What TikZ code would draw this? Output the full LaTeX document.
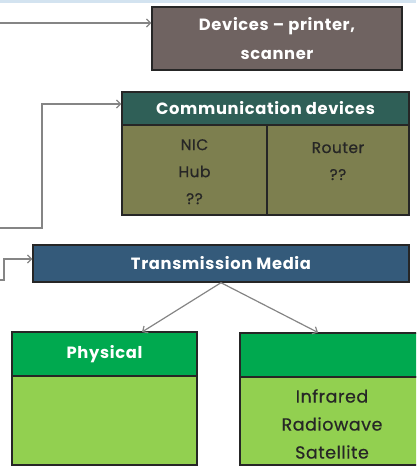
\documentclass[tikz,border=0pt]{standalone}
\usepackage{fontspec}
\setmainfont{Poppins}[LetterSpace=4]
\newfontfamily\bodyfont{Poppins}[LetterSpace=3, FakeBold=0.6]
\usetikzlibrary{arrows.meta}
\definecolor{devfill}{HTML}{6F6361}
\definecolor{commhead}{HTML}{2F5F57}
\definecolor{commbody}{HTML}{7D7F4F}
\definecolor{tmfill}{HTML}{345A7A}
\definecolor{greenhead}{HTML}{00A94F}
\definecolor{greenbody}{HTML}{92D050}
\definecolor{conn}{HTML}{858585}
\definecolor{topstrip}{HTML}{D3E3F0}
\tikzset{
  box/.style={draw=black!85, line width=1.4pt, rectangle, inner sep=0pt, align=center},
  headtext/.style={text=white, font=\bfseries\fontsize{16.3}{29}\selectfont},
  bodytext/.style={text=black!85, font=\bodyfont\fontsize{15.5}{27}\selectfont, align=center, anchor=north, inner sep=0pt},
  bigbodytext/.style={bodytext, font=\bodyfont\fontsize{17.5}{28}\selectfont},
  connector/.style={draw=conn, line width=1.2pt, -{Straight Barb[length=4pt,width=8pt]}},
}
\begin{document}
\begin{tikzpicture}[x=1pt,y=-1pt]
\useasboundingbox (0,0) rectangle (416,466);
\clip (0,0) rectangle (416,466);
\fill[topstrip] (0,0) rectangle (416,2.5);
% devices
\node[box, fill=devfill, minimum width=250pt, minimum height=63pt, headtext] (dev) at (277,38.5) {Devices -- printer,\\scanner};
% communication devices
\node[box, fill=commhead, minimum width=287pt, minimum height=33pt, headtext] (commh) at (265.5,108.5) {Communication devices};
\node[box, fill=commbody, minimum width=145pt, minimum height=90pt] (commL) at (194.5,170) {};
\node[box, fill=commbody, minimum width=142pt, minimum height=90pt] (commR) at (338,170) {};
\node[bodytext] (commLt) at (194.5,139) {NIC\\Hub\\??};
\node[bodytext] (commRt) at (338,142) {Router\\??};
% transmission media
\node[box, fill=tmfill, minimum width=376pt, minimum height=37pt, headtext] (tm) at (221,263.5) {Transmission Media};
% physical
\node[box, fill=greenhead, minimum width=185pt, minimum height=44pt, headtext] (phh) at (104.5,354) {Physical};
\node[box, fill=greenbody, minimum width=185pt, minimum height=89pt] (phb) at (104.5,420.5) {};
% wireless
\node[box, fill=greenhead, minimum width=190pt, minimum height=44pt] (wlh) at (335,355) {};
\node[box, fill=greenbody, minimum width=190pt, minimum height=88pt] (wlb) at (335,421) {};
\node[bigbodytext] (wlt) at (332,389) {Infrared\\Radiowave\\Satellite};
% connectors
\coordinate (s1) at (0,23);
\coordinate (s2) at (0,228);
\coordinate (s3) at (0,280);
\draw[connector] (s1) -- (s1 -| dev.west);
\draw[connector] (s2) -- (42,228) -- (42,104) -- (commh.west |- 0,104);
\draw[connector] (s3) -- (4,280) -- (4,259) -- (tm.west |- 0,259);
\draw[connector] (tm.south) -- (142,332);
\draw[connector] (tm.south) -- (318,332.5);
\end{tikzpicture}
\end{document}
